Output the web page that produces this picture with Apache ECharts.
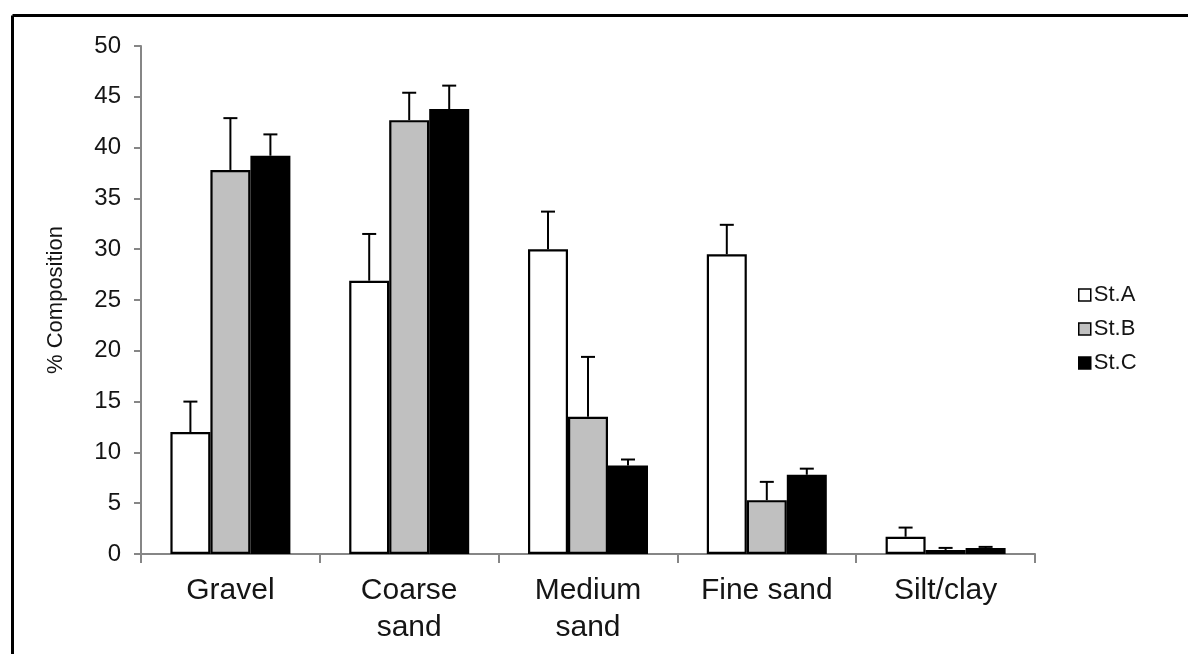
<!DOCTYPE html>
<html>
<head>
<meta charset="utf-8">
<script src="https://cdn.jsdelivr.net/npm/echarts@6/dist/echarts.min.js"></script>
<style>
html,body{margin:0;padding:0;background:#fff;}
#chart{width:1188px;height:654px;}
</style>
</head>
<body>
<div id="chart"></div>
<script>
// ---- data ----
const categories = ['Gravel', 'Coarse\nsand', 'Medium\nsand', 'Fine sand', 'Silt/clay'];
const seriesNames = ['St.A', 'St.B', 'St.C'];
const stA = [12.0, 26.9, 30.0, 29.5, 1.7];
const stB = [37.8, 42.7, 13.5, 5.3, 0.4];
const stC = [39.2, 43.8, 8.7, 7.8, 0.6];
const errA = [15.0, 31.5, 33.7, 32.4, 2.6];   // top of error bar
const errB = [42.9, 45.4, 19.4, 7.1, 0.6];
const errC = [41.3, 46.1, 9.3, 8.4, 0.7];
const yTicks = [0, 5, 10, 15, 20, 25, 30, 35, 40, 45, 50];

// ---- styles ----
const fills = ['#ffffff', '#c0c0c0', '#000000'];
const BAR_W = 40;
const FONT = '"Liberation Sans", Arial, sans-serif';
const AXIS_GREY = '#868686';
const TEXT = '#151515';

const chart = echarts.init(document.getElementById('chart'));

const values = [stA, stB, stC];
const errs = [errA, errB, errC];

function errSeries(idx) {
  const offset = (idx - 1) * BAR_W;
  return {
    type: 'custom',
    name: seriesNames[idx] + ' err',
    z: 5,
    silent: true,
    data: categories.map((c, i) => [i, values[idx][i], errs[idx][i]]),
    renderItem: function (params, api) {
      const base = api.coord([api.value(0), api.value(1)]);
      const top = api.coord([api.value(0), api.value(2)]);
      const x = base[0] + offset;
      const cap = 7;
      return {
        type: 'group',
        children: [
          { type: 'line', shape: { x1: x, y1: base[1], x2: x, y2: top[1] }, style: { stroke: '#000', lineWidth: 2 } },
          { type: 'line', shape: { x1: x - cap, y1: top[1], x2: x + cap, y2: top[1] }, style: { stroke: '#000', lineWidth: 2 } }
        ]
      };
    }
  };
}

const barSeries = seriesNames.map((n, idx) => ({
  type: 'bar',
  name: n,
  data: values[idx],
  barWidth: BAR_W,
  barGap: '0%',
  itemStyle: { color: fills[idx], borderColor: '#000', borderWidth: 2.2 },
  emphasis: { disabled: true },
  z: 2
}));

chart.setOption({
  animation: false,
  backgroundColor: '#ffffff',
  grid: { left: 141, right: 153, top: 46, bottom: 100, containLabel: false },
  legend: {
    orient: 'vertical',
    left: 1073,
    top: 279,
    itemWidth: 12,
    itemHeight: 12,
    itemGap: 12,
    icon: 'rect',
    data: seriesNames,
    itemStyle: { borderColor: '#000', borderWidth: 1.5 },
    textStyle: { fontFamily: FONT, fontSize: 22, color: TEXT, padding: [0, 0, 0, -2] }
  },
  xAxis: {
    type: 'category',
    data: categories,
    boundaryGap: true,
    axisLine: { lineStyle: { color: AXIS_GREY, width: 2 } },
    axisTick: { show: true, alignWithLabel: false, length: 9, inside: false, lineStyle: { color: AXIS_GREY, width: 2 } },
    axisLabel: { fontFamily: FONT, fontSize: 30, color: TEXT, margin: 18, lineHeight: 37, interval: 0 },
    splitLine: { show: false }
  },
  yAxis: {
    type: 'value',
    min: 0,
    max: 50,
    interval: 5,
    name: '% Composition',
    nameLocation: 'middle',
    nameGap: 74,
    nameRotate: 90,
    nameTextStyle: { fontFamily: FONT, fontSize: 22, color: TEXT },
    axisLine: { show: true, lineStyle: { color: AXIS_GREY, width: 2 } },
    axisTick: { show: true, length: 7, lineStyle: { color: AXIS_GREY, width: 2 } },
    axisLabel: { fontFamily: FONT, fontSize: 24, color: TEXT, margin: 20,
      formatter: v => (yTicks.indexOf(v) >= 0 ? String(v) : '') },
    splitLine: { show: false }
  },
  graphic: [
    { type: 'line', shape: { x1: 12.5, y1: 15.5, x2: 1188, y2: 15.5 }, style: { stroke: '#000', lineWidth: 3 } },
    { type: 'line', shape: { x1: 12.5, y1: 15.5, x2: 12.5, y2: 654 }, style: { stroke: '#000', lineWidth: 3 } }
  ],
  series: barSeries.concat([errSeries(0), errSeries(1), errSeries(2)])
});
</script>
</body>
</html>
